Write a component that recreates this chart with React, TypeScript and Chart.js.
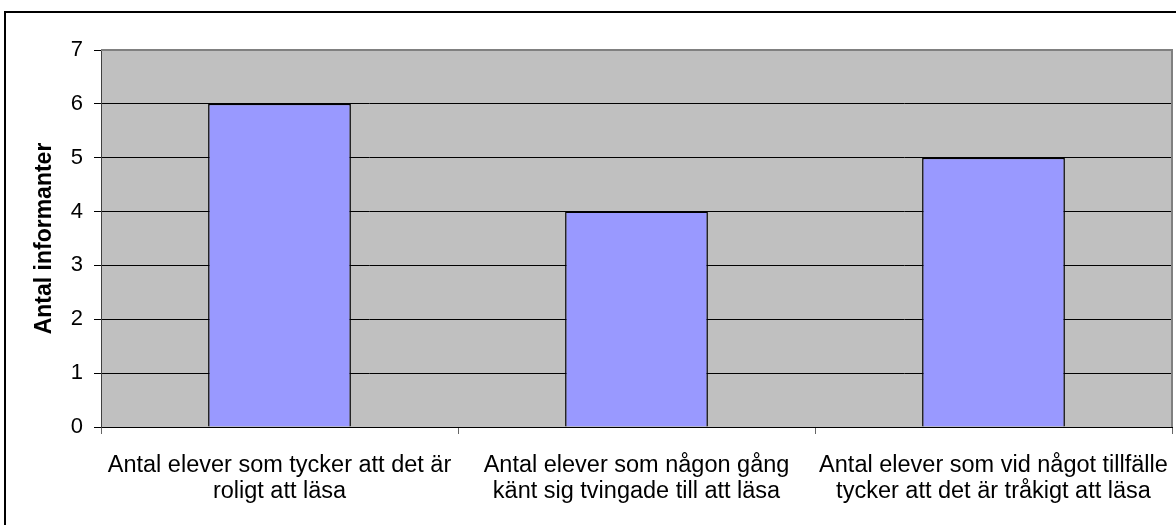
import React, { useEffect, useRef } from "react";
import { Chart, registerables } from "chart.js";

Chart.register(...registerables);

const categories: string[][] = [
  ["Antal elever som tycker att det är", "roligt att läsa"],
  ["Antal elever som någon gång", "känt sig tvingade till att läsa"],
  ["Antal elever som vid något tillfälle", "tycker att det är tråkigt att läsa"],
];
const values: number[] = [6, 4, 5];
const yTitle = "Antal informanter";
const yMin = 0;
const yMax = 7;
const yStep = 1;

const FONT = "'Liberation Sans', Arial, sans-serif";

const framePlugin = {
  id: "framePlugin",
  beforeDraw(chart: any) {
    const { ctx, chartArea } = chart;
    ctx.save();
    ctx.fillStyle = "#ffffff";
    ctx.fillRect(0, 0, chart.width, chart.height);
    ctx.fillStyle = "#C0C0C0";
    ctx.fillRect(
      chartArea.left,
      chartArea.top,
      chartArea.right - chartArea.left,
      chartArea.bottom - chartArea.top
    );
    ctx.restore();
  },
  afterDraw(chart: any) {
    const { ctx, chartArea } = chart;
    ctx.save();
    ctx.strokeStyle = "#808080";
    ctx.lineWidth = 2;
    ctx.beginPath();
    ctx.moveTo(chartArea.left, chartArea.top);
    ctx.lineTo(chartArea.right, chartArea.top);
    ctx.lineTo(chartArea.right, chartArea.bottom);
    ctx.stroke();
    ctx.strokeStyle = "#000000";
    ctx.lineWidth = 2;
    ctx.strokeRect(5, 12, chart.width + 50, chart.height + 50);
    ctx.restore();
  },
};

export default function App() {
  const ref = useRef<HTMLCanvasElement | null>(null);

  useEffect(() => {
    if (!ref.current) return;
    const chart = new Chart(ref.current, {
      type: "bar",
      data: {
        labels: categories,
        datasets: [
          {
            data: values,
            backgroundColor: "#9999FF",
            borderColor: "#000000",
            borderWidth: 1.5,
            barPercentage: 0.4,
            categoryPercentage: 1,
          },
        ],
      },
      options: {
        animation: false,
        responsive: false,
        maintainAspectRatio: false,
        layout: { padding: { left: 0, top: 50, right: 4, bottom: 0 } },
        plugins: {
          legend: { display: false },
          tooltip: { enabled: false },
          title: { display: false },
        },
        scales: {
          x: {
            afterFit(scale: any) {
              scale.height = 98;
              scale.paddingLeft = 0;
              scale.paddingRight = 0;
            },
            grid: {
              display: true,
              drawOnChartArea: false,
              drawTicks: true,
              tickLength: 7,
              offset: true,
              color: "#666666",
            },
            border: { display: true, color: "#000000", width: 1 },
            ticks: {
              color: "#000000",
              font: { family: FONT, size: 23.5, lineHeight: 26 / 23.5 },
              padding: 19,
              maxRotation: 0,
              autoSkip: false,
            },
          },
          y: {
            min: yMin,
            max: yMax,
            afterFit(scale: any) {
              scale.width = 101;
              scale.paddingTop = 0;
              scale.paddingBottom = 0;
            },
            grid: {
              color: "#000000",
              drawTicks: true,
              tickLength: 7,
              lineWidth: 1,
            },
            border: { display: true, color: "#404040", width: 1 },
            ticks: {
              stepSize: yStep,
              color: "#000000",
              font: { family: FONT, size: 22 },
              padding: 11,
            },
            title: {
              display: true,
              text: yTitle,
              color: "#000000",
              font: { family: FONT, size: 23, weight: "bold", lineHeight: 1.2 },
              padding: { top: 31, bottom: 0 },
            },
          },
        },
      },
      plugins: [framePlugin],
    });
    return () => chart.destroy();
  }, []);

  return (
    <div style={{ position: "fixed", left: 0, top: 0, width: 1176, height: 525 }}>
      <canvas ref={ref} width={1176} height={525} style={{ width: 1176, height: 525 }} />
    </div>
  );
}
